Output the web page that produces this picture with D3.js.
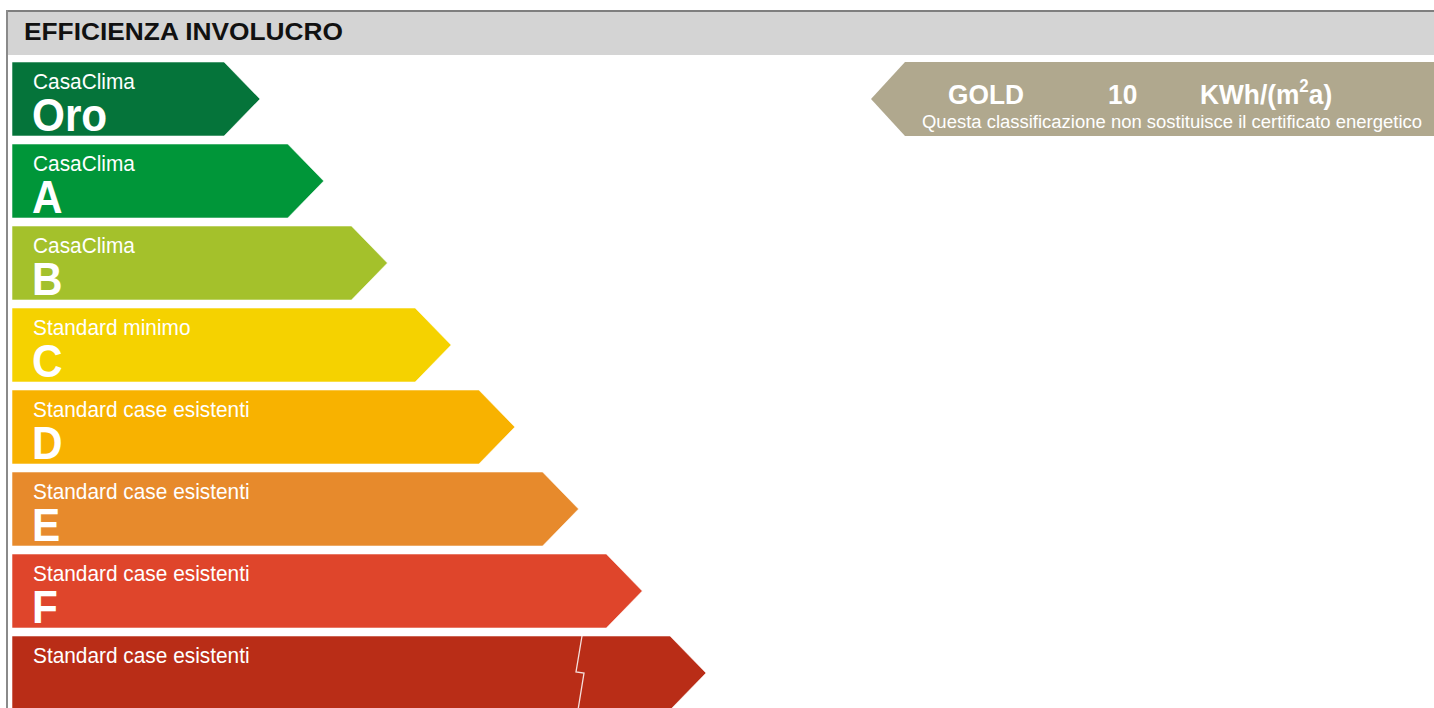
<!DOCTYPE html>
<html lang="it">
<head>
<meta charset="UTF-8">
<title>Efficienza involucro</title>
<script src="https://d3js.org/d3.v7.min.js"></script>
<style>
  html, body { margin: 0; padding: 0; background: #fff; overflow: hidden; }
  svg { display: block; font-family: "Liberation Sans Narrow", "Arial Narrow", "Liberation Sans", Arial, sans-serif; }
</style>
</head>
<body>
<svg id="chart"></svg>
<script>
// classi energetiche (dall'alto in basso)
const classes   = ["Oro", "A", "B", "C", "D", "E", "F", "G"];
const subtitles = ["CasaClima", "CasaClima", "CasaClima", "Standard minimo",
                   "Standard case esistenti", "Standard case esistenti",
                   "Standard case esistenti", "Standard case esistenti"];
const letters   = ["Oro", "A", "B", "C", "D", "E", "F", ""];
const rank      = [0, 1, 2, 3, 4, 5, 6, 7];
const colors    = ["#05743a", "#009639", "#a4c12b", "#f5d200",
                   "#f8b200", "#e78a2c", "#df452b", "#b92d17"];

// risultato
const ratingClass = "Oro";
const ratingLabel = "GOLD";
const ratingValue = 10;
const ratingNote  = "Questa classificazione non sostituisce il certificato energetico";

const width = 1434, height = 708;

const svg = d3.select("#chart")
  .attr("width", width)
  .attr("height", height);

// testo compresso in orizzontale (font narrow non disponibile)
function label(sel, x, y, size, sx, bold) {
  return sel.append("text")
    .attr("transform", `translate(${x},${y}) scale(${sx},1)`)
    .attr("font-size", size)
    .attr("font-weight", bold ? "bold" : null);
}

// header
svg.append("rect")
  .attr("x", 7).attr("y", 11)
  .attr("width", width - 7).attr("height", 44)
  .attr("fill", "#d4d4d4");
svg.append("line")
  .attr("x1", 6).attr("x2", width).attr("y1", 11).attr("y2", 11)
  .attr("stroke", "#7f7f7f").attr("stroke-width", 2);
svg.append("line")
  .attr("x1", 7).attr("x2", 7).attr("y1", 10).attr("y2", height)
  .attr("stroke", "#8a8a8a").attr("stroke-width", 2);
svg.append("text")
  .attr("x", 24).attr("y", 40)
  .attr("font-size", 24).attr("font-weight", "bold")
  .attr("textLength", 319).attr("lengthAdjust", "spacingAndGlyphs")
  .attr("fill", "#111")
  .text("EFFICIENZA INVOLUCRO");

// scale
const y = d3.scaleBand()
  .domain(classes)
  .range([62, 710])
  .paddingInner(8 / 82)
  .paddingOuter(0);

const x = d3.scaleLinear()
  .domain([0, 7])
  .range([224, 670]);

const left = 12;
const bh = y.bandwidth();

const rows = classes.map((c, i) => ({
  cls: c, sub: subtitles[i], letter: letters[i], rank: rank[i], color: colors[i]
}));

const arrow = d => {
  const x1 = x(d.rank), y0 = y(d.cls);
  const tip = bh / 2 - 1;
  return `M${left},${y0}H${x1}L${x1 + tip},${y0 + bh / 2}L${x1},${y0 + bh}H${left}Z`;
};

const bar = svg.append("g").selectAll("g.bar")
  .data(rows)
  .join("g")
  .attr("class", "bar");

bar.append("path")
  .attr("d", arrow)
  .attr("fill", d => d.color)
  .attr("stroke", "#fff")
  .attr("stroke-opacity", 0.55)
  .attr("stroke-width", 1);

bar.each(function(d) {
  const g = d3.select(this);
  label(g, 33, y(d.cls) + 27, 21.5, 0.97, false)
    .attr("fill", "#fff").text(d.sub);
  label(g, 32, y(d.cls) + 69, 47, 0.9, true)
    .attr("fill", "#fff").text(d.letter);
});

// segno di interruzione sull'ultima classe
const last = rows[rows.length - 1];
const bx = x(last.rank) - 88, by = y(last.cls);
svg.append("path")
  .attr("d", `M${bx},${by}L${bx - 6},${by + 36}L${bx + 2},${by + 37}L${bx - 4},${by + bh}`)
  .attr("fill", "none")
  .attr("stroke", "#fff")
  .attr("stroke-opacity", 0.85)
  .attr("stroke-width", 1.3);

// indicatore del risultato
const ry = y(ratingClass);
const rx = 905;
const rtip = bh / 2 - 3;
svg.append("path")
  .attr("d", `M${rx},${ry}H${width + 2}V${ry + bh}H${rx}L${rx - rtip},${ry + bh / 2}Z`)
  .attr("fill", "#b0a88e");

const rl = svg.append("g").attr("fill", "#fff");
label(rl, 948, ry + 42, 28, 0.94, true).text(ratingLabel);
label(rl, 1108, ry + 42, 28, 0.94, true).text(ratingValue);
const unit = label(rl, 1200, ry + 42, 28, 0.94, true);
unit.append("tspan").text("KWh/(m");
unit.append("tspan").attr("dy", -12).attr("font-size", 18).text("2");
unit.append("tspan").attr("dy", 12).text("a)");
rl.append("text")
  .attr("x", 922).attr("y", ry + 66)
  .attr("font-size", 18)
  .attr("textLength", 500).attr("lengthAdjust", "spacingAndGlyphs")
  .text(ratingNote);
</script>
</body>
</html>
